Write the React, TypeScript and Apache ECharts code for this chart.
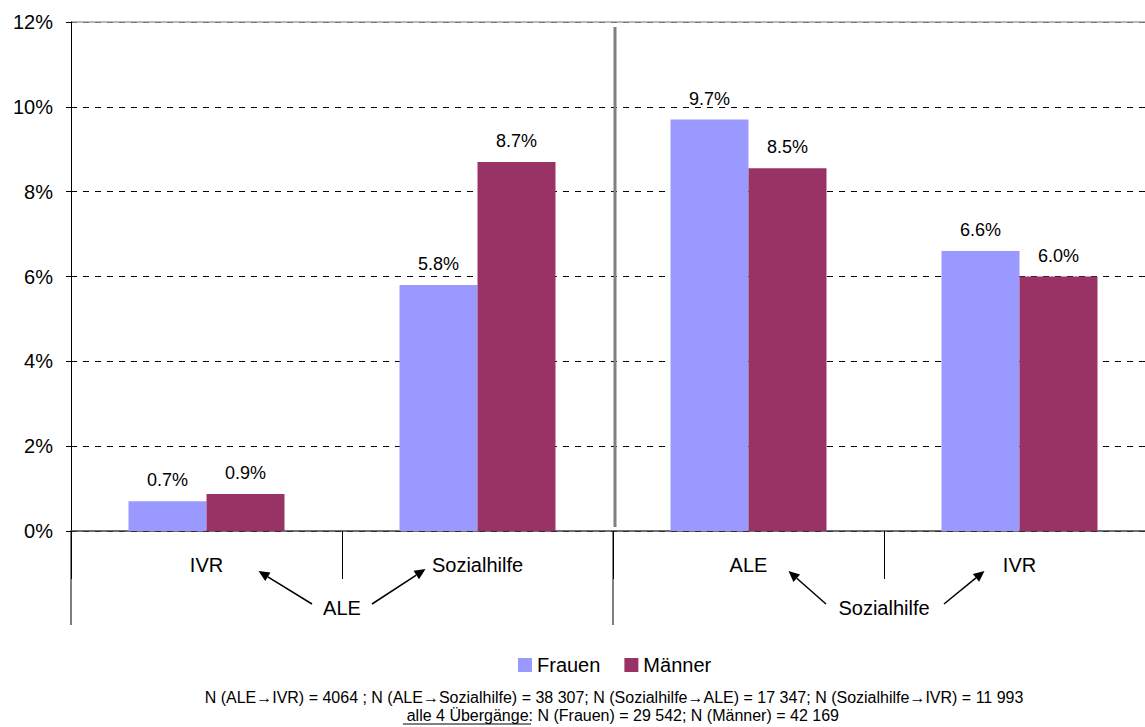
import React, { useEffect, useRef } from "react";
import * as echarts from "echarts";

const categories = ["IVR", "Sozialhilfe", "ALE", "IVR"];
const frauen = [0.7, 5.8, 9.7, 6.6];
const maenner = [0.87, 8.7, 8.55, 6.0];
const frauenLabels = ["0.7%", "5.8%", "9.7%", "6.6%"];
const maennerLabels = ["0.9%", "8.7%", "8.5%", "6.0%"];
const yTicks = [0, 2, 4, 6, 8, 10, 12];
const groupLabels = ["ALE", "Sozialhilfe"];
const footLine1 =
  "N (ALE\u2192IVR) = 4064 ; N (ALE\u2192Sozialhilfe) = 38 307; N (Sozialhilfe\u2192ALE) = 17 347; N (Sozialhilfe\u2192IVR) = 11 993";
const footLine2a = "alle 4 \u00dcberg\u00e4nge:";
const footLine2b = " N (Frauen) = 29 542; N (M\u00e4nner) = 42 169";

const FONT = "Liberation Sans, Arial, sans-serif";
const C_F = "#9999FF";
const C_M = "#993366";

function arrow(x1: number, y1: number, x2: number, y2: number) {
  const dx = x2 - x1;
  const dy = y2 - y1;
  const len = Math.sqrt(dx * dx + dy * dy);
  const ux = dx / len;
  const uy = dy / len;
  const hl = 11;
  const hw = 5;
  const bx = x2 - ux * hl;
  const by = y2 - uy * hl;
  return {
    type: "group",
    silent: true,
    children: [
      { type: "line", shape: { x1, y1, x2: bx, y2: by }, style: { stroke: "#000", lineWidth: 1.5 } },
      {
        type: "polygon",
        shape: {
          points: [
            [x2, y2],
            [bx - uy * hw, by + ux * hw],
            [bx + uy * hw, by - ux * hw],
          ],
        },
        style: { fill: "#000" },
      },
    ],
  };
}

export default function App() {
  const ref = useRef<HTMLDivElement>(null);
  useEffect(() => {
    if (!ref.current) return;
    const chart = echarts.init(ref.current, null, { renderer: "svg" });
    const gridLeft = 71;
    const gridTop = 22;
    const gridH = 509;
    const gridW = 1084;
    chart.setOption({
      animation: false,
      backgroundColor: "#fff",
      textStyle: { fontFamily: FONT },
      grid: { left: gridLeft, top: gridTop, width: gridW, height: gridH, containLabel: false },
      legend: {
        data: ["Frauen", "M\u00e4nner"],
        left: 513,
        top: 650,
        icon: "rect",
        itemWidth: 14,
        itemHeight: 14,
        itemGap: 24,
        textStyle: { fontSize: 20, color: "#000", fontFamily: FONT },
      },
      xAxis: {
        type: "category",
        data: categories,
        axisLine: { show: true, lineStyle: { color: "#404040", width: 1.5 } },
        axisTick: { show: true, length: 48, lineStyle: { color: "#000", width: 1 } },
        axisLabel: { fontSize: 20, color: "#000", margin: 24, fontFamily: FONT },
        splitLine: { show: false },
      },
      yAxis: {
        type: "value",
        min: yTicks[0],
        max: yTicks[yTicks.length - 1],
        interval: 2,
        axisLine: { show: true, lineStyle: { color: "#000", width: 1 } },
        axisTick: { show: true, length: 5, lineStyle: { color: "#000" } },
        axisLabel: { fontSize: 20, color: "#000", margin: 18, formatter: "{value}%", fontFamily: FONT },
        splitLine: { show: true, lineStyle: { color: "#000", type: [6, 6], width: 1 } },
      },
      series: [
        {
          name: "Frauen",
          type: "bar",
          data: frauen,
          barWidth: 78,
          barGap: "0%",
          itemStyle: { color: C_F },
          label: {
            show: true,
            position: "top",
            distance: 12,
            fontSize: 18,
            color: "#000",
            fontFamily: FONT,
            formatter: (p: any) => frauenLabels[p.dataIndex],
          },
        },
        {
          name: "M\u00e4nner",
          type: "bar",
          data: maenner,
          barWidth: 78,
          barGap: "0%",
          itemStyle: { color: C_M },
          label: {
            show: true,
            position: "top",
            distance: 12,
            fontSize: 18,
            color: "#000",
            fontFamily: FONT,
            formatter: (p: any) => maennerLabels[p.dataIndex],
          },
        },
      ],
    });

    const p = (c: number, v: number) => chart.convertToPixel({ gridIndex: 0 }, [c, v]) as number[];
    const y0 = p(0, 0)[1];
    const yTop = p(0, 12)[1];
    const c0 = p(0, 0)[0];
    const c1 = p(1, 0)[0];
    const c2 = p(2, 0)[0];
    const c3 = p(3, 0)[0];
    const half = (c1 - c0) / 2;
    const sepX = c1 + half;
    const groupY = y0 + 77;
    const g1 = c0 + half;
    const g2 = c2 + half;
    const FF = "Liberation Sans, Arial";

    chart.setOption({
      graphic: [
        { type: "line", silent: true, shape: { x1: gridLeft, y1: yTop, x2: gridLeft + gridW, y2: yTop }, style: { stroke: "#a0a0a0", lineWidth: 1.5 } },
        { type: "line", silent: true, shape: { x1: sepX + 2, y1: yTop + 5, x2: sepX + 2, y2: y0 - 4 }, style: { stroke: "#808080", lineWidth: 3 } },
        { type: "line", silent: true, shape: { x1: gridLeft, y1: y0, x2: gridLeft, y2: y0 + 94 }, style: { stroke: "#000", lineWidth: 1 } },
        { type: "line", silent: true, shape: { x1: sepX, y1: y0, x2: sepX, y2: y0 + 94 }, style: { stroke: "#000", lineWidth: 1 } },
        { type: "text", silent: true, x: g1, y: groupY, style: { text: groupLabels[0], fontSize: 20, fontFamily: FONT, fill: "#000", align: "center", verticalAlign: "middle" } },
        { type: "text", silent: true, x: g2, y: groupY, style: { text: groupLabels[1], fontSize: 20, fontFamily: FONT, fill: "#000", align: "center", verticalAlign: "middle" } },
        arrow(g1 - 30, groupY - 4, c0 + 52, y0 + 40),
        arrow(g1 + 30, groupY - 4, c1 - 52, y0 + 38),
        arrow(g2 - 58, groupY - 4, c2 + 40, y0 + 40),
        arrow(g2 + 60, groupY - 4, c3 - 35, y0 + 40),
        { type: "text", silent: true, x: 614, y: 697, style: { text: footLine1, fontSize: 16, fontFamily: FF, fill: "#000", align: "center", verticalAlign: "middle" } },
        { type: "text", silent: true, x: 533, y: 715, style: { text: footLine2a, fontSize: 16, fontFamily: FF, fill: "#000", align: "right", verticalAlign: "middle" } },
        { type: "text", silent: true, x: 533, y: 715, style: { text: footLine2b, fontSize: 16, fontFamily: FF, fill: "#000", align: "left", verticalAlign: "middle" } },
        { type: "line", silent: true, shape: { x1: 403, y1: 724, x2: 531, y2: 724 }, style: { stroke: "#000", lineWidth: 1 } },
      ],
    });

    return () => chart.dispose();
  }, []);
  return (
    <div style={{ position: "absolute", left: 0, top: 0, width: 1145, height: 727, overflow: "hidden" }}>
      <div ref={ref} style={{ position: "absolute", left: 0, top: 0, width: 1170, height: 727 }} />
    </div>
  );
}
